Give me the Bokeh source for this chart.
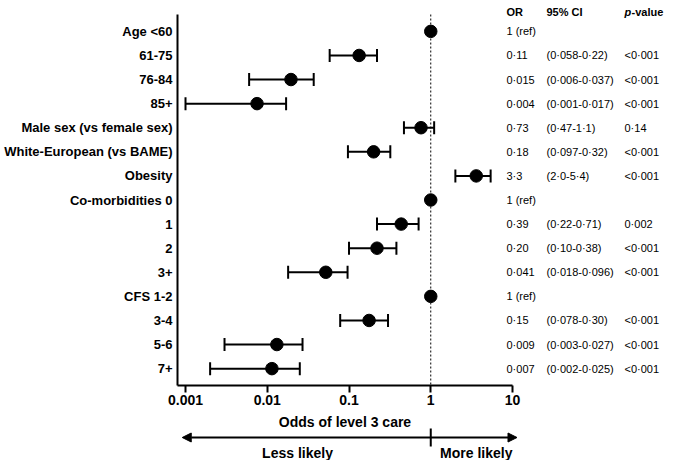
import math
from bokeh.plotting import figure
from bokeh.layouts import column
from bokeh.models import (Range1d, FixedTicker, PrintfTickFormatter, ColumnDataSource,
                          LabelSet, Label, Arrow, NormalHead)
from bokeh.core.properties import value
from bokeh.embed import file_html
from bokeh.resources import INLINE

# ---------------- data ----------------
labels = ["Age <60", "61-75", "76-84", "85+", "Male sex (vs female sex)",
          "White-European (vs BAME)", "Obesity", "Co-morbidities 0", "1", "2", "3+",
          "CFS 1-2", "3-4", "5-6", "7+"]
or_point = [1, 0.133, 0.0195, 0.0075, 0.76, 0.20, 3.6, 1, 0.435, 0.22, 0.052, 1, 0.176, 0.0131, 0.0114]
ci_low = [None, 0.058, 0.006, 0.001, 0.47, 0.097, 2.0, None, 0.22, 0.10, 0.018, None, 0.078, 0.003, 0.002]
ci_high = [None, 0.22, 0.037, 0.017, 1.1, 0.32, 5.4, None, 0.71, 0.38, 0.096, None, 0.30, 0.027, 0.025]
or_txt = ["1 (ref)", "0·11", "0·015", "0·004", "0·73", "0·18", "3·3", "1 (ref)", "0·39", "0·20",
          "0·041", "1 (ref)", "0·15", "0·009", "0·007"]
ci_txt = ["", "(0·058-0·22)", "(0·006-0·037)", "(0·001-0·017)", "(0·47-1·1)", "(0·097-0·32)",
          "(2·0-5·4)", "", "(0·22-0·71)", "(0·10-0·38)", "(0·018-0·096)", "", "(0·078-0·30)",
          "(0·003-0·027)", "(0·002-0·025)"]
p_txt = ["", "<0·001", "<0·001", "<0·001", "0·14", "<0·001", "<0·001", "", "0·002", "<0·001",
         "<0·001", "", "<0·001", "<0·001", "<0·001"]
x_ticks = [0.001, 0.01, 0.1, 1, 10]
x_title = "Odds of level 3 care"
less_txt, more_txt = "Less likely", "More likely"

FONT = "Liberation Sans"
n = len(labels)
rows = list(range(n))

# ---------------- geometry ----------------
W = 669
H1, H2 = 412, 48
F_LEFT = 177
AX_TOP, AX_BOTTOM = 14, 385           # extent of the y axis line in canvas px
PAD = 0.7
row_px = (AX_BOTTOM - AX_TOP) / (n - 1 + 2 * PAD)
top_extra = AX_TOP / row_px
LOG_MIN = -3.098
DECADE_PX = 81.75
LOG_MAX = LOG_MIN + (W - F_LEFT) / DECADE_PX
AXIS_MAX = 10.0

x_range = Range1d(10 ** LOG_MIN, 10 ** LOG_MAX)

# ---------------- main figure ----------------
p = figure(width=W, height=H1, output_backend="svg", toolbar_location=None,
           x_axis_type="log", x_range=x_range,
           y_range=Range1d(n - 1 + PAD, -PAD - top_extra),
           min_border_left=F_LEFT, min_border_right=0,
           min_border_top=0, min_border_bottom=H1 - AX_BOTTOM)
p.outline_line_color = None
p.xgrid.visible = False
p.ygrid.visible = False
p.background_fill_color = "white"
p.border_fill_color = "white"

# reference line at OR = 1
p.segment(x0=[1], y0=[-PAD], x1=[1], y1=[n - 1 + PAD], line_color="black",
          line_width=1, line_dash="2 2")

# error bars
src_ci = ColumnDataSource(dict(
    y=[r for r, lo in zip(rows, ci_low) if lo is not None],
    lo=[lo for lo in ci_low if lo is not None],
    hi=[hi for hi in ci_high if hi is not None]))
cap = 0.27
src_ci.data["y0"] = [y - cap for y in src_ci.data["y"]]
src_ci.data["y1"] = [y + cap for y in src_ci.data["y"]]
p.segment(x0="lo", y0="y", x1="hi", y1="y", source=src_ci, line_color="black", line_width=2)
p.segment(x0="lo", y0="y0", x1="lo", y1="y1", source=src_ci, line_color="black", line_width=2)
p.segment(x0="hi", y0="y0", x1="hi", y1="y1", source=src_ci, line_color="black", line_width=2)

# points
p.scatter(x=or_point, y=rows, size=12.5, color="black")

# axes
xa = p.xaxis[0]
xa.ticker = FixedTicker(ticks=x_ticks, minor_ticks=[])
xa.formatter = PrintfTickFormatter(format="%g")
xa.bounds = (10 ** LOG_MIN, AXIS_MAX)
xa.axis_line_width = 2
xa.major_tick_line_width = 2
xa.major_tick_out = 7
xa.major_tick_in = 0
xa.minor_tick_line_color = None
xa.major_label_text_font = FONT
xa.major_label_text_font_style = "bold"
xa.major_label_text_font_size = "14px"
xa.major_label_text_color = "black"
xa.major_label_standoff = 2

ya = p.yaxis[0]
ya.ticker = FixedTicker(ticks=rows, minor_ticks=[])
ya.major_label_overrides = {i: lab for i, lab in enumerate(labels)}
ya.bounds = (-PAD, n - 1 + PAD)
ya.axis_line_width = 2
ya.major_tick_line_color = None
ya.minor_tick_line_color = None
ya.major_tick_out = 0
ya.major_tick_in = 0
ya.major_label_text_font = FONT
ya.major_label_text_font_style = "bold"
ya.major_label_text_font_size = "13px"
ya.major_label_text_color = "black"
ya.major_label_standoff = 5

# table on the right (x in frame-relative screen px, y on the row scale)
TFS = "11px"
COL_OR, COL_CI, COL_P = 506 - F_LEFT, 546 - F_LEFT, 624 - F_LEFT
tsrc = ColumnDataSource(dict(y=rows, or_t=or_txt, ci_t=ci_txt, p_t=p_txt,
                             x_or=[COL_OR] * n, x_ci=[COL_CI] * n, x_p=[COL_P] * n))
for col, xcol in (("or_t", "x_or"), ("ci_t", "x_ci"), ("p_t", "x_p")):
    p.add_layout(LabelSet(x=xcol, y="y", text=col, source=tsrc, x_units="screen",
                          text_font=value(FONT), text_font_size=value(TFS),
                          text_color="black", text_baseline="middle", text_align="left"))

hy = -PAD - (AX_TOP - 11) / row_px
for txt, xx, style in (("OR", COL_OR, "bold"), ("95% CI", COL_CI, "bold"),
                       ("p", COL_P, "bold italic"), ("-value", COL_P + 7, "bold")):
    p.add_layout(Label(x=xx, y=hy, x_units="screen", text=txt,
                       text_font=FONT, text_font_size=TFS, text_font_style=style,
                       text_color="black", text_baseline="middle", text_align="left"))

# ---------------- bottom strip: axis title and direction arrow ----------------
q = figure(width=W, height=H2, output_backend="svg", toolbar_location=None,
           x_axis_type="log", x_range=x_range, y_range=Range1d(H2, 0),
           x_axis_location=None, y_axis_location=None,
           min_border_left=F_LEFT, min_border_right=0, min_border_top=0, min_border_bottom=0)
q.outline_line_color = None
q.xgrid.visible = False
q.ygrid.visible = False
q.background_fill_color = "white"
q.border_fill_color = "white"

title_x = 10 ** ((LOG_MIN + math.log10(AXIS_MAX)) / 2)
q.text(x=[title_x], y=[9], text=[x_title], text_font=value(FONT), text_font_size=value("14px"),
       text_font_style="bold", text_color="black", text_align="center", text_baseline="middle")

AY = 25
q.add_layout(Arrow(x_start=10 ** -3.04, y_start=AY, x_end=10 ** 1.055, y_end=AY,
                   start=NormalHead(size=9, fill_color="black", line_color="black", line_width=1),
                   end=NormalHead(size=9, fill_color="black", line_color="black", line_width=1),
                   line_width=2, line_color="black"))
q.segment(x0=[1], y0=[AY - 9], x1=[1], y1=[AY + 9], line_color="black", line_width=2)
q.text(x=[10 ** -1.63, 10 ** 0.557], y=[40, 40], text=[less_txt, more_txt],
       text_font=value(FONT), text_font_size=value("14px"), text_font_style="bold",
       text_color="black", text_align="center", text_baseline="middle")

layout = column(p, q, spacing=0)
open("out.html", "w").write(file_html(layout, INLINE))
